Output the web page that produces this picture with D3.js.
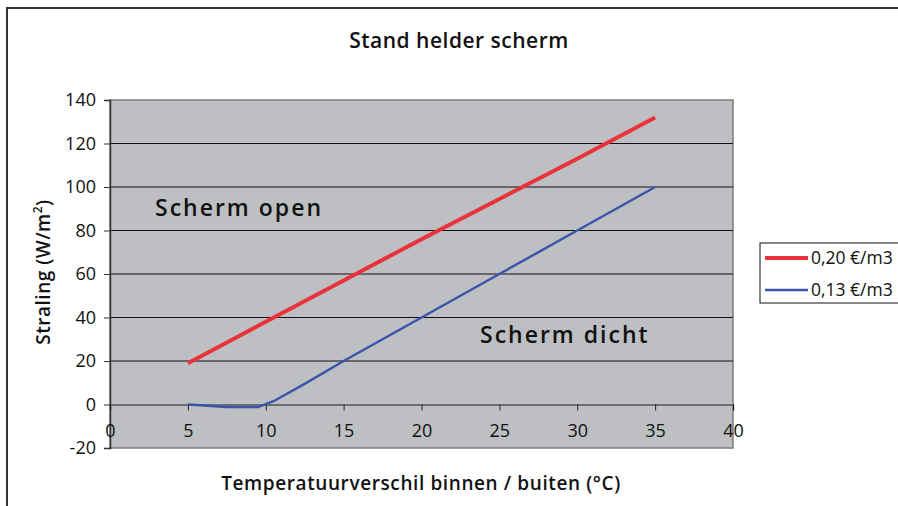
<!DOCTYPE html>
<html>
<head>
<meta charset="utf-8">
<script src="https://cdn.jsdelivr.net/npm/d3@7"></script>
<style>
  body { margin: 0; background: #fff; }
  text { font-family: "Open Sans", sans-serif; fill: #111; }
</style>
</head>
<body>
<div class="chart"></div>
<script>
const svgWidth = 898
const svgHeight = 506

// data
const redX = [5, 10, 15, 20, 25, 30, 35]
const redY = [19, 38, 57, 76, 94.5, 113, 132]
const blueX = [5, 7.5, 9.5, 10.5, 12.5, 15, 20, 25, 30, 35]
const blueY = [0, -1.2, -1.2, 1.5, 9.5, 20, 40, 60, 80, 100]
const seriesNames = ["0,20 €/m3", "0,13 €/m3"]
const xTicks = [0, 5, 10, 15, 20, 25, 30, 35, 40]
const yTicks = [-20, 0, 20, 40, 60, 80, 100, 120, 140]

let plot = { left: 110, top: 100, right: 733, bottom: 448 }

let svg = d3.select(".chart").append("svg")
  .attr("width", svgWidth)
  .attr("height", svgHeight)

// outer chart frame
svg.append("rect")
  .attr("x", 7).attr("y", 8)
  .attr("width", 960).attr("height", 600)
  .attr("fill", "#fff")
  .attr("stroke", "#333")
  .attr("stroke-width", 2)

let x = d3.scaleLinear().domain([0, 40]).range([plot.left, plot.right])
let y = d3.scaleLinear().domain([-20, 140]).range([plot.bottom, plot.top])

// plot background
svg.append("rect")
  .attr("x", plot.left).attr("y", plot.top)
  .attr("width", plot.right - plot.left)
  .attr("height", plot.bottom - plot.top)
  .attr("fill", "#bebfc2")
  .attr("stroke", "#7c7c7c")
  .attr("stroke-width", 1.5)

// gridlines
svg.append("g")
  .selectAll("line")
  .data(yTicks.filter(d => d > -20 && d < 140 && d !== 0))
  .enter()
  .append("line")
  .attr("x1", plot.left).attr("x2", plot.right)
  .attr("y1", d => y(d)).attr("y2", d => y(d))
  .attr("stroke", "#111")
  .attr("stroke-width", 1.2)

// y axis
let yAxis = svg.append("g")
  .attr("transform", `translate(${plot.left},0)`)
  .call(d3.axisLeft(y).tickValues(yTicks).tickFormat(d => String(d)).tickSize(6).tickPadding(8))
yAxis.select(".domain").attr("stroke", "#333").attr("stroke-width", 1.5)
yAxis.selectAll(".tick line").attr("stroke", "#333")
yAxis.selectAll("text")
  .attr("font-size", "18px")
  .attr("font-family", "'Open Sans', sans-serif")
  .attr("fill", "#111")

// x axis through y = 0
let xAxis = svg.append("g")
  .attr("transform", `translate(0,${y(0)})`)
  .call(d3.axisBottom(x).tickValues(xTicks).tickFormat(d => String(d)).tickSize(6).tickPadding(14))
xAxis.select(".domain").attr("stroke", "#555").attr("stroke-width", 1.5)
xAxis.selectAll(".tick line").attr("stroke", "#222")
xAxis.selectAll("text")
  .attr("font-size", "18px")
  .attr("font-family", "'Open Sans', sans-serif")
  .attr("fill", "#111")

let line = d3.line().x(d => x(d[0])).y(d => y(d[1]))

svg.append("path")
  .datum(redX.map((d, i) => [d, redY[i]]))
  .attr("d", line)
  .attr("fill", "none")
  .attr("stroke", "#e8333b")
  .attr("stroke-width", 4)

svg.append("path")
  .datum(blueX.map((d, i) => [d, blueY[i]]))
  .attr("d", line)
  .attr("fill", "none")
  .attr("stroke", "#3a55aa")
  .attr("stroke-width", 2.5)

// annotations
svg.append("text")
  .attr("x", 155).attr("y", 216)
  .attr("font-size", "23px").attr("font-weight", 600)
  .attr("letter-spacing", "2px")
  .text("Scherm open")

svg.append("text")
  .attr("x", 480).attr("y", 343)
  .attr("font-size", "23px").attr("font-weight", 600)
  .attr("letter-spacing", "2px")
  .text("Scherm dicht")

// title
svg.append("text")
  .attr("x", 459).attr("y", 48)
  .attr("text-anchor", "middle")
  .attr("font-size", "21px").attr("font-weight", 600)
  .attr("letter-spacing", "0.5px")
  .text("Stand helder scherm")

// axis titles
svg.append("text")
  .attr("x", 421).attr("y", 490)
  .attr("text-anchor", "middle")
  .attr("font-size", "19px").attr("font-weight", 600)
  .attr("letter-spacing", "0.6px")
  .text("Temperatuurverschil binnen / buiten (°C)")

let yTitle = svg.append("text")
  .attr("transform", "translate(50,272) rotate(-90)")
  .attr("text-anchor", "middle")
  .attr("font-size", "19px").attr("font-weight", 600)
  .attr("letter-spacing", "0.5px")
yTitle.append("tspan").text("Straling (W/m")
yTitle.append("tspan").attr("dy", -8).attr("font-size", "12px").text("2")
yTitle.append("tspan").attr("dy", 8).text(")")

// legend
let legend = svg.append("g")
legend.append("rect")
  .attr("x", 760).attr("y", 243)
  .attr("width", 160).attr("height", 60)
  .attr("fill", "#fff")
  .attr("stroke", "#111")
  .attr("stroke-width", 1)

let legendColors = ["#e8333b", "#3a55aa"]
let legendWidths = [4, 2.5]
seriesNames.forEach((name, i) => {
  let ly = 258 + i * 32
  legend.append("line")
    .attr("x1", 765).attr("x2", 808)
    .attr("y1", ly).attr("y2", ly)
    .attr("stroke", legendColors[i])
    .attr("stroke-width", legendWidths[i])
  legend.append("text")
    .attr("x", 811).attr("y", ly + 6)
    .attr("font-size", "17.5px")
    .text(name)
})
</script>
</body>
</html>
